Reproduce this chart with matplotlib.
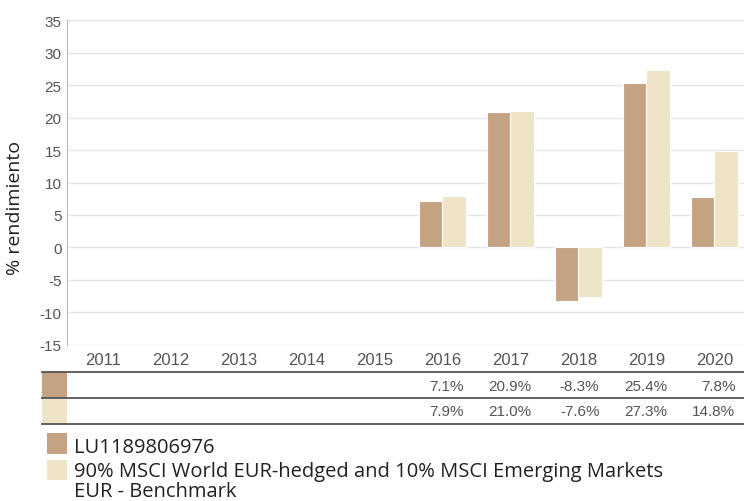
import numpy as np
import matplotlib
matplotlib.use("Agg")
from matplotlib import pyplot as plt
from matplotlib.lines import Line2D
from matplotlib.patches import Rectangle

plt.rcParams["axes.unicode_minus"] = False

# data
years = ["2011", "2012", "2013", "2014", "2015", "2016", "2017", "2018", "2019", "2020"]
fund = [np.nan, np.nan, np.nan, np.nan, np.nan, 7.1, 20.9, -8.3, 25.4, 7.8]
bench = [np.nan, np.nan, np.nan, np.nan, np.nan, 7.9, 21.0, -7.6, 27.3, 14.8]
fund_name = "LU1189806976"
bench_name = "90% MSCI World EUR-hedged and 10% MSCI Emerging Markets\nEUR - Benchmark"

dark = "#C4A282"
light = "#EFE3C8"
tick_col = "#555555"

W, H = 744, 502
fig = plt.figure(figsize=(W / 100, H / 100), dpi=100)
ax = fig.add_axes([67 / W, 1 - 345.7 / H, 1 - 67 / W, (345.7 - 21.3) / H])

x = np.arange(len(years))
bw = 0.343
ax.bar(x - bw / 2, fund, bw, color=dark, edgecolor="white", linewidth=0.8, zorder=3)
ax.bar(x + bw / 2, bench, bw, color=light, edgecolor="white", linewidth=0.8, zorder=3)

ax.set_xlim(-0.526, 9.437)
ax.set_ylim(-15, 35)
ax.set_yticks(np.arange(-15, 36, 5))
ax.set_xticks(x)
ax.set_xticklabels(years)
ax.yaxis.grid(True, color="#E6E6E6", linewidth=1, zorder=0)
for s in ["top", "right", "bottom"]:
    ax.spines[s].set_visible(False)
ax.spines["left"].set_color("#BBBBBB")
ax.tick_params(axis="y", length=0, colors=tick_col, labelsize=11, pad=4)
ax.tick_params(axis="x", length=0, colors=tick_col, labelsize=12, pad=5)
for lab in ax.get_xticklabels() + ax.get_yticklabels():
    lab.set_family("Liberation Sans")

fig.text(15 / W, 1 - 208 / H, "% rendimiento", rotation=90, ha="center", va="center",
         fontsize=14, family="Open Sans", color="#222222")

# table under the axis
def fx(px):
    return px / W

def fy(py):
    return 1 - py / H

for py in [372.7, 399.3, 425]:
    fig.add_artist(Line2D([fx(42), 1], [fy(py), fy(py)], color="#555555", linewidth=1.3))
fig.add_artist(Rectangle((fx(42), fy(398.8)), fx(25), fy(373.2) - fy(398.8), color=dark, linewidth=0))
fig.add_artist(Rectangle((fx(42), fy(424.5)), fx(25), fy(399.8) - fy(424.5), color=light, linewidth=0))

for row_vals, py in [(fund, 386.7), (bench, 411.7)]:
    for i, v in enumerate(row_vals):
        if np.isnan(v):
            continue
        xd = ax.transData.transform((i + 0.31, 0))[0] / W
        fig.text(xd, fy(py), f"{v:.1f}%", ha="right", va="center", fontsize=11,
                 family="Liberation Sans", color=tick_col)

# legend
fig.add_artist(Rectangle((fx(47), fy(455)), fx(20), fy(434.3) - fy(455), color=dark, linewidth=0))
fig.add_artist(Rectangle((fx(47), fy(480.7)), fx(20), fy(460.7) - fy(480.7), color=light, linewidth=0))
fig.text(fx(74), fy(453), fund_name, ha="left", va="baseline", fontsize=14.5,
         family="Open Sans", color="#222222")
for k, line in enumerate(bench_name.split("\n")):
    fig.text(fx(74), fy(477 + 20.5 * k), line, ha="left", va="baseline", fontsize=14.5,
             family="Open Sans", color="#222222")

fig.savefig("out.png", dpi=100)
